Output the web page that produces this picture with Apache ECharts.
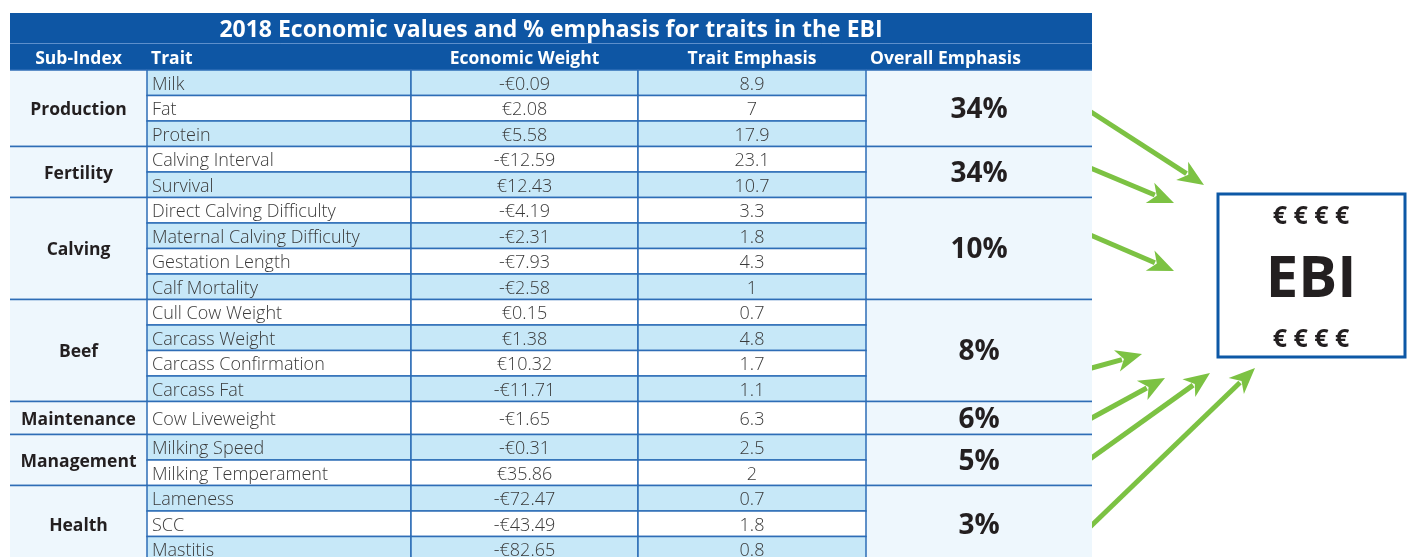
<!DOCTYPE html>
<html>
<head>
<meta charset="utf-8">
<script src="https://cdn.jsdelivr.net/npm/echarts@6/dist/echarts.min.js"></script>
<style>
  html, body { margin: 0; padding: 0; background: #fff; }
  #chart { width: 1407px; height: 557px; }
</style>
</head>
<body>
<div id="chart"></div>
<script>
// table data
const title = '2018 Economic values and % emphasis for traits in the EBI';
const headerLabels = ['Sub-Index', 'Trait', 'Economic Weight', 'Trait Emphasis', 'Overall Emphasis'];
const subIndex = ['Production', 'Fertility', 'Calving', 'Beef', 'Maintenance', 'Management', 'Health'];
const groupSizes = [3, 2, 4, 4, 1, 2, 3];
const overallEmphasis = [34, 34, 10, 8, 6, 5, 3];
const traits = ['Milk', 'Fat', 'Protein', 'Calving Interval', 'Survival',
    'Direct Calving Difficulty', 'Maternal Calving Difficulty', 'Gestation Length', 'Calf Mortality',
    'Cull Cow Weight', 'Carcass Weight', 'Carcass Confirmation', 'Carcass Fat',
    'Cow Liveweight', 'Milking Speed', 'Milking Temperament', 'Lameness', 'SCC', 'Mastitis'];
const economicWeight = [-0.09, 2.08, 5.58, -12.59, 12.43, -4.19, -2.31, -7.93, -2.58,
    0.15, 1.38, 10.32, -11.71, -1.65, -0.31, 35.86, -72.47, -43.49, -82.65];
const traitEmphasis = [8.9, 7, 17.9, 23.1, 10.7, 3.3, 1.8, 4.3, 1, 0.7, 4.8, 1.7, 1.1, 6.3, 2.5, 2, 0.7, 1.8, 0.8];

// layout (axis units = px)
const W = 1082;
const colEdges = [0, 137, 401, 628, 856, 1082];
const titleH = 30.5, headerTop = 30.5, headerBottom = 57;
const rowH = 25.5, singleRowH = 33;
const visibleH = 544; // the table runs past the bottom of the page
const textDy = 2;
const blue = '#0e56a4', border = '#2e6db6', lightRow = '#c7e8f8', pale = '#eef7fd';
const font = "'Open Sans', sans-serif";

function fmtEuro(v) {
    return (v < 0 ? '-€' : '€') + Math.abs(v).toFixed(2);
}

let cells = [];
cells.push({ x0: 0, x1: W, y0: 0, y1: titleH, fill: blue, text: title, color: '#fff', size: 23, weight: 'bold', align: 'center' });
cells.push({ x0: 0, x1: W, y0: headerTop, y1: headerBottom, fill: blue, topLine: '#5d8fcb' });
headerLabels.forEach(function (h, i) {
    let left = i === 1 || i === 4;
    cells.push({ x0: colEdges[i], x1: colEdges[i + 1], y0: headerTop, y1: headerBottom, text: h, color: '#fff',
        size: 17.5, weight: 'bold', align: left ? 'left' : 'center', pad: 4 });
});

let y = headerBottom, r = 0;
subIndex.forEach(function (name, g) {
    let h = groupSizes[g] === 1 ? singleRowH : rowH;
    let gTop = y, gBottom = y + h * groupSizes[g];
    cells.push({ x0: colEdges[0], x1: colEdges[1], y0: gTop, y1: gBottom, fill: pale, tb: true,
        text: name, color: '#231f20', size: 17.5, weight: 'bold', align: 'center' });
    cells.push({ x0: colEdges[4], x1: colEdges[5], y0: gTop, y1: gBottom, fill: pale, tb: true,
        text: overallEmphasis[g] + '%', color: '#231f20', size: 28, weight: 'bold', align: 'center' });
    for (let k = 0; k < groupSizes[g]; k++) {
        let fill = r % 2 === 0 ? lightRow : '#ffffff';
        let texts = [traits[r], fmtEuro(economicWeight[r]), String(traitEmphasis[r])];
        for (let c = 1; c <= 3; c++) {
            cells.push({ x0: colEdges[c], x1: colEdges[c + 1], y0: y, y1: y + h, fill: fill, box: true,
                text: texts[c - 1], color: '#3a3a3a', size: 18, weight: 300, align: c === 1 ? 'left' : 'center', pad: 5 });
        }
        y += h;
        r++;
    }
});

function renderCell(params, api) {
    let c = cells[params.dataIndex];
    let p0 = api.coord([api.value(0), api.value(1)]);
    let p1 = api.coord([api.value(2), api.value(3)]);
    let children = [];
    if (c.fill) {
        children.push({ type: 'rect', shape: { x: p0[0], y: p0[1], width: p1[0] - p0[0], height: p1[1] - p0[1] },
            style: c.box ? { fill: c.fill, stroke: border, lineWidth: 1.5 } : { fill: c.fill } });
    }
    if (c.tb) {
        [p0[1], p1[1]].forEach(function (ly) {
            children.push({ type: 'line', shape: { x1: p0[0], y1: ly, x2: p1[0], y2: ly }, style: { stroke: border, lineWidth: 1.5 } });
        });
    }
    if (c.topLine) {
        children.push({ type: 'line', shape: { x1: p0[0], y1: p0[1], x2: p1[0], y2: p0[1] }, style: { stroke: c.topLine, lineWidth: 1 } });
    }
    if (c.text) {
        let tx = c.align === 'left' ? p0[0] + (c.pad || 0) : (p0[0] + p1[0]) / 2;
        children.push({ type: 'text', x: tx, y: (p0[1] + p1[1]) / 2 + textDy,
            style: { text: c.text, fill: c.color, fontSize: c.size, fontWeight: c.weight, fontFamily: font,
                align: c.align, verticalAlign: 'middle' } });
    }
    return { type: 'group', children: children };
}

// decorative arrows pointing to the EBI box: [x1, y1, x2, y2]
const arrows = [[1088, 110, 1204, 185], [1088, 167, 1174, 203], [1088, 234, 1174, 271],
    [1088, 369, 1142, 354], [1088, 420, 1165, 378], [1090, 459, 1210, 373], [1090, 527, 1255, 368]];
const green = '#7cc243';
let arrowGraphics = [];
arrows.forEach(function (a) {
    let dx = a[2] - a[0], dy = a[3] - a[1];
    let len = Math.sqrt(dx * dx + dy * dy);
    let ux = dx / len, uy = dy / len, nx = -uy, ny = ux;
    let L = 26, hw = 11;
    arrowGraphics.push({ type: 'line', shape: { x1: a[0], y1: a[1], x2: a[2] - ux * L * 0.8, y2: a[3] - uy * L * 0.8 },
        style: { stroke: green, lineWidth: 5 } });
    arrowGraphics.push({ type: 'polygon', shape: { points: [
        [a[2], a[3]],
        [a[2] - ux * L + nx * hw, a[3] - uy * L + ny * hw],
        [a[2] - ux * L * 0.72, a[3] - uy * L * 0.72],
        [a[2] - ux * L - nx * hw, a[3] - uy * L - ny * hw]
    ] }, style: { fill: green } });
});

let chart = echarts.init(document.getElementById('chart'));
let option = {
    animation: false,
    backgroundColor: '#ffffff',
    grid: { left: 10, top: 13, width: W, height: visibleH },
    xAxis: { type: 'value', min: 0, max: W, show: false },
    yAxis: { type: 'value', min: 0, max: visibleH, inverse: true, show: false },
    series: [{
        type: 'custom',
        silent: true,
        clip: false,
        renderItem: renderCell,
        data: cells.map(function (c) { return [c.x0, c.y0, c.x1, c.y1]; })
    }],
    graphic: arrowGraphics.concat([
        { type: 'rect', shape: { x: 1218, y: 194, width: 187, height: 163 },
          style: { fill: '#fff', stroke: '#0d58a6', lineWidth: 3 } },
        { type: 'text', x: 1311, y: 217, style: { text: '€ € € €', fontSize: 25, fontWeight: 'bold', fontFamily: font,
          fill: '#231f20', align: 'center', verticalAlign: 'middle' } },
        { type: 'text', x: 1311, y: 280, style: { text: 'EBI', fontSize: 58, fontWeight: 'bold', fontFamily: font,
          fill: '#231f20', align: 'center', verticalAlign: 'middle' } },
        { type: 'text', x: 1311, y: 340, style: { text: '€ € € €', fontSize: 25, fontWeight: 'bold', fontFamily: font,
          fill: '#231f20', align: 'center', verticalAlign: 'middle' } }
    ])
};
chart.setOption(option);
</script>
</body>
</html>
